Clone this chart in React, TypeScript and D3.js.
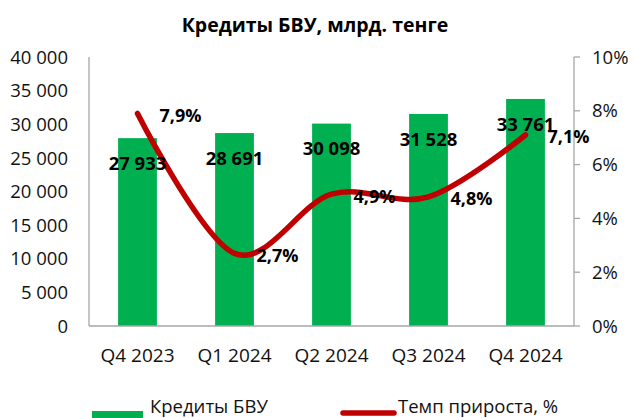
import React from "react";
import * as d3 from "d3";

const categories = ["Q4 2023", "Q1 2024", "Q2 2024", "Q3 2024", "Q4 2024"];
const credits = [27933, 28691, 30098, 31528, 33761];
const growth = [7.9, 2.7, 4.9, 4.8, 7.1];
const leftTicks = [0, 5000, 10000, 15000, 20000, 25000, 30000, 35000, 40000];
const rightTicks = [0, 2, 4, 6, 8, 10];

const W = 633, H = 418;
const left = 89, right = 574, top = 57, bottom = 326;
const FONT = "'Open Sans', 'Noto Sans', sans-serif";

const fmt = (v: number) => d3.format(",")(v).replace(/,/g, " ");
const fmtPct = (v: number) => v.toFixed(1).replace(".", ",") + "%";

export default function App() {
  const x = d3.scaleBand<string>().domain(categories).range([left, right]).paddingInner(0.6).paddingOuter(0.3);
  const xc = (c: string) => (x(c) as number) + x.bandwidth() / 2;
  const yL = d3.scaleLinear().domain([0, 40000]).range([bottom, top]);
  const yR = d3.scaleLinear().domain([0, 10]).range([bottom, top]);
  const line = d3.line<number>().x((_, i) => xc(categories[i])).y((d) => yR(d)).curve(d3.curveCatmullRom.alpha(0));
  const axisColor = "#a6a6a6";
  return (
    <svg width={W} height={H} style={{ position: "absolute", left: 0, top: 0, fontFamily: FONT }}>
      <rect width={W} height={H} fill="#fff" />
      <text x={315} y={32} textAnchor="middle" fontWeight="bold" fontSize={19.5} fill="#000">
        Кредиты БВУ, млрд. тенге
      </text>
      {categories.map((c, i) => (
        <rect key={c} x={x(c)} y={yL(credits[i])} width={x.bandwidth()} height={bottom - yL(credits[i])} fill="#00b050" />
      ))}
      <line x1={left} x2={left} y1={top} y2={bottom} stroke={axisColor} strokeWidth={1.3} />
      <line x1={left} x2={right} y1={bottom} y2={bottom} stroke={axisColor} strokeWidth={1.3} />
      <line x1={right} x2={right} y1={top} y2={bottom} stroke={axisColor} strokeWidth={1.3} />
      {rightTicks.map((t) => (
        <line key={t} x1={right} x2={right + 6} y1={yR(t)} y2={yR(t)} stroke={axisColor} strokeWidth={1.3} />
      ))}
      {leftTicks.map((t) => (
        <text key={t} x={68} y={yL(t)} dy="0.36em" textAnchor="end" fontSize={18.5} fill="#111">
          {fmt(t)}
        </text>
      ))}
      {rightTicks.map((t) => (
        <text key={t} x={592} y={yR(t)} dy="0.36em" textAnchor="start" fontSize={18.5} fill="#111">
          {t}%
        </text>
      ))}
      {categories.map((c) => (
        <text key={c} x={xc(c)} y={355} dy="0.36em" textAnchor="middle" fontSize={19} fill="#111">
          {c}
        </text>
      ))}
      <path d={line(growth) as string} fill="none" stroke="#c00000" strokeWidth={5.5} strokeLinecap="round" />
      {categories.map((c, i) => (
        <text key={c} x={xc(c)} y={yL(credits[i]) + 25} dy="0.36em" textAnchor="middle" fontWeight="bold" fontSize={18.5} fill="#000">
          {fmt(credits[i])}
        </text>
      ))}
      {categories.map((c, i) => (
        <text key={c} x={xc(c) + 22} y={yR(growth[i]) + 2} dy="0.36em" textAnchor="start" fontWeight="bold" fontSize={18} fill="#000">
          {fmtPct(growth[i])}
        </text>
      ))}
      <rect x={92} y={411} width={51} height={12} fill="#00b050" />
      <text x={150} y={413} fontSize={18.5} fill="#111">Кредиты БВУ</text>
      <line x1={343} x2={394} y1={413} y2={413} stroke="#c00000" strokeWidth={5.5} strokeLinecap="round" />
      <text x={398} y={413} fontSize={18.5} fill="#111">Темп прироста, %</text>
    </svg>
  );
}
